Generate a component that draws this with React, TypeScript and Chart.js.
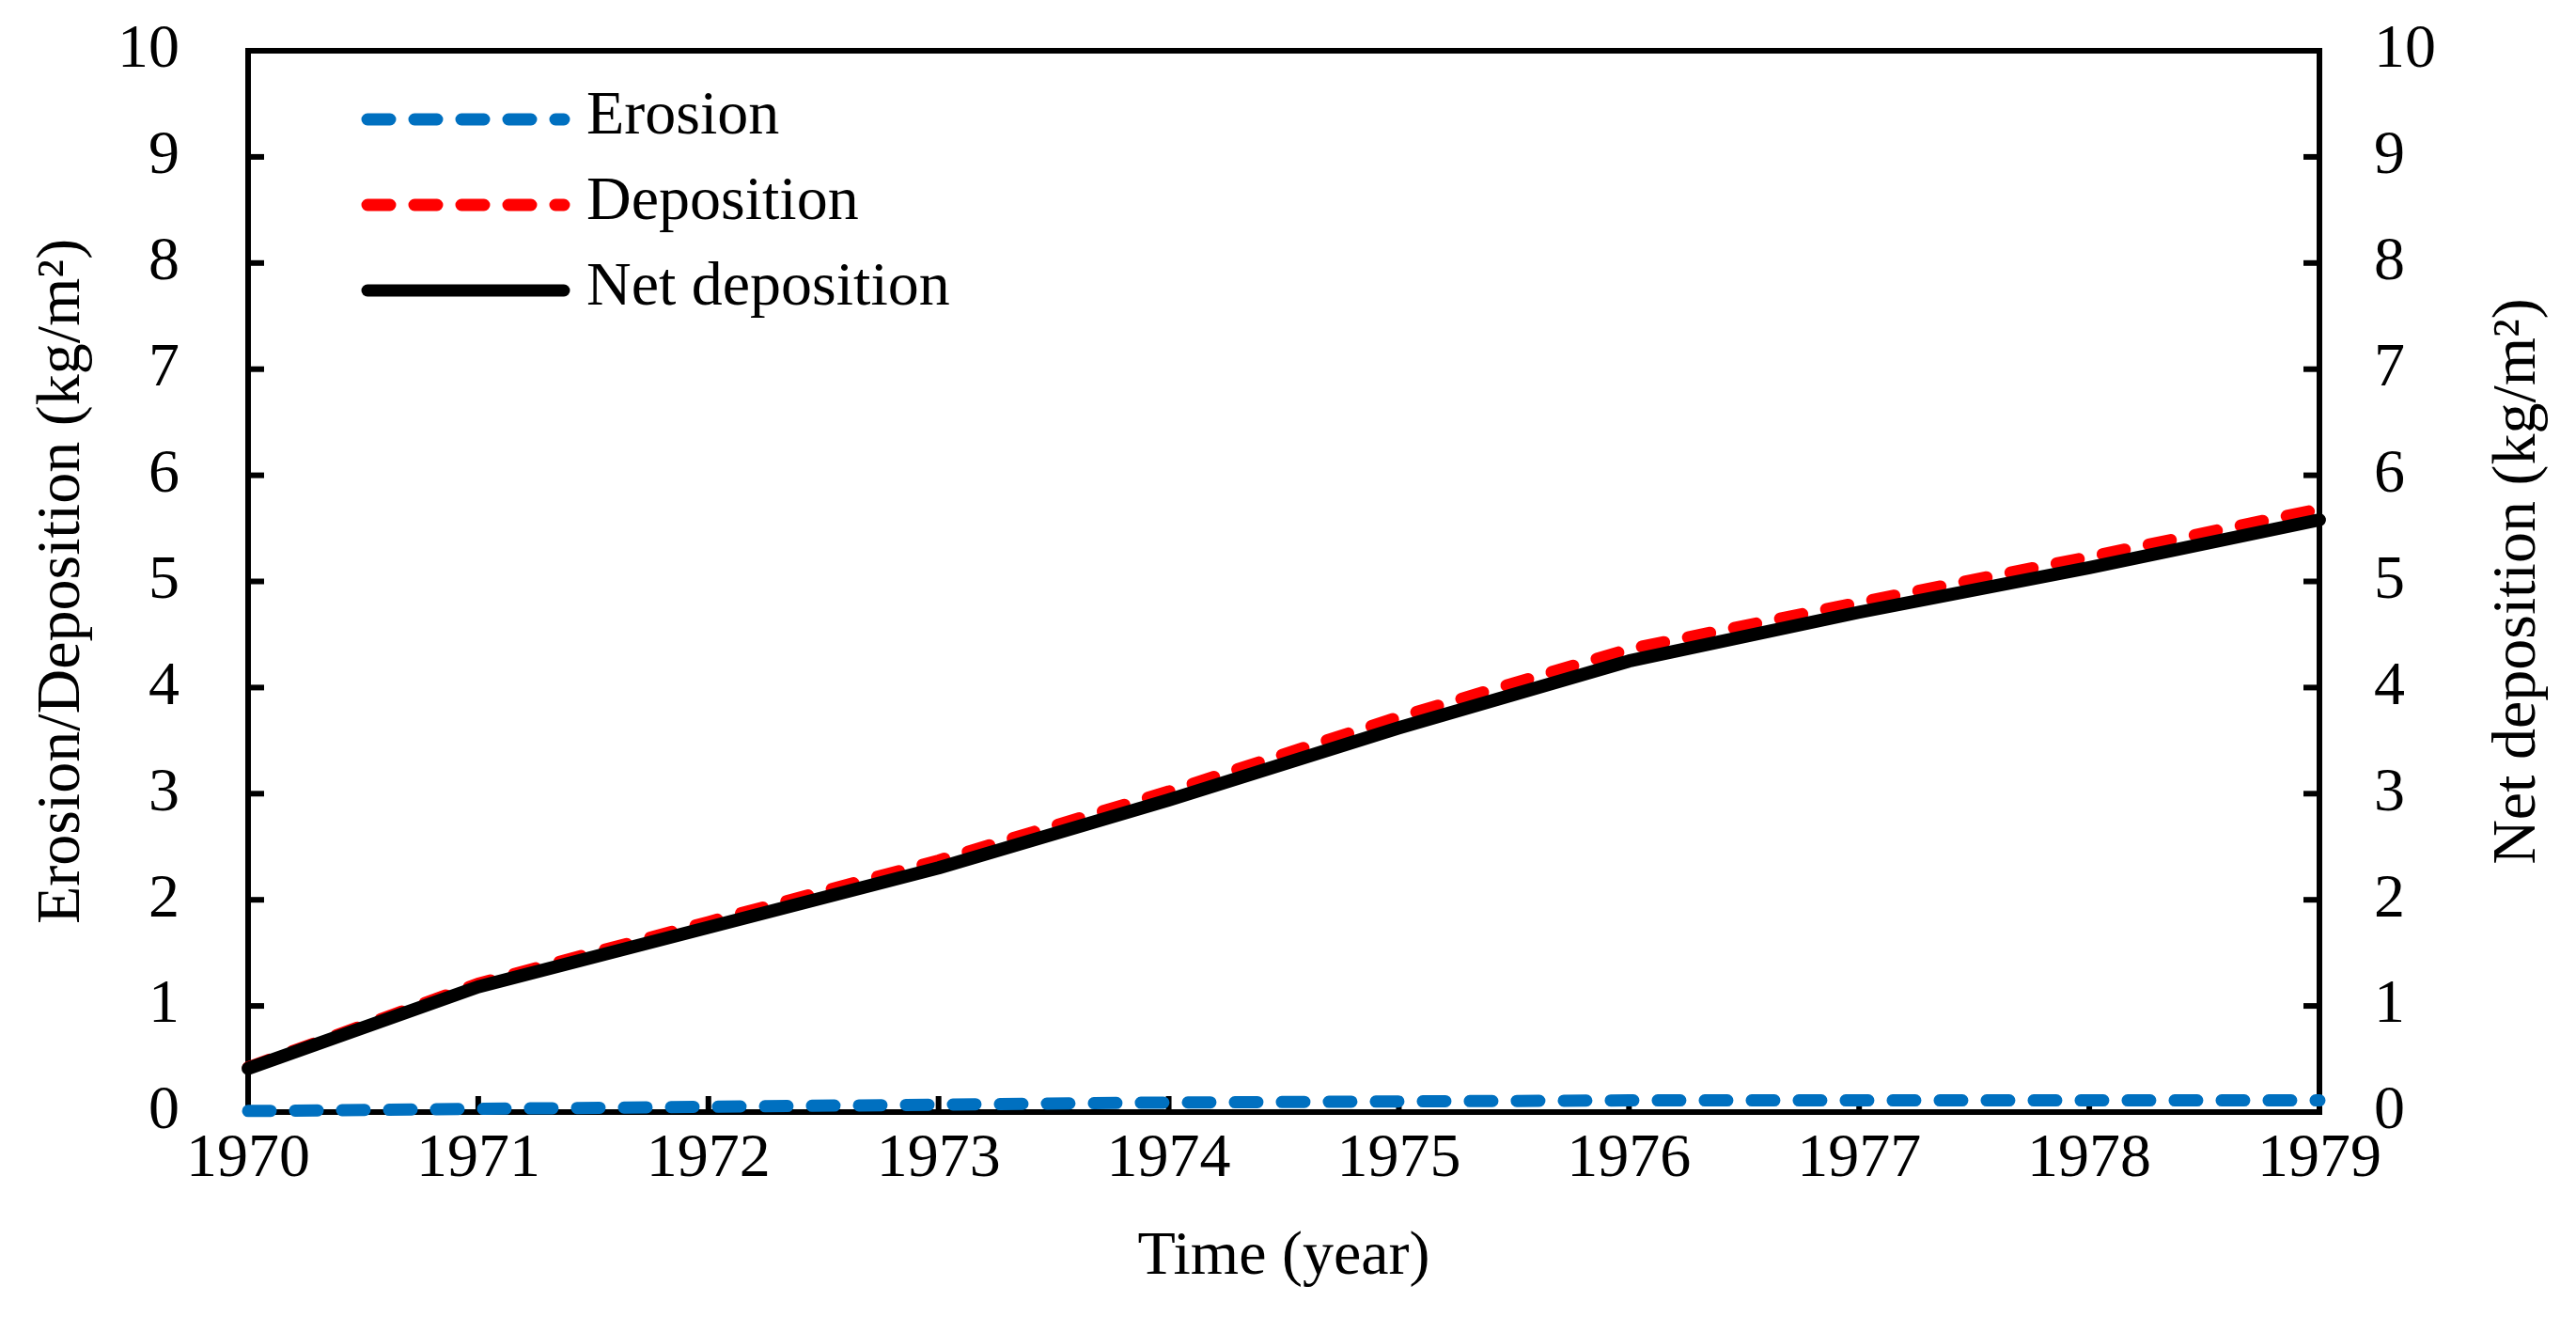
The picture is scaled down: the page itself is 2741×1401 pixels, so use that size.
import React, { useEffect, useRef } from 'react';
import { Chart, registerables } from 'chart.js';

Chart.register(...registerables);

// ---- data ----
const years = ['1970', '1971', '1972', '1973', '1974', '1975', '1976', '1977', '1978', '1979'];
const erosion = [0.01, 0.03, 0.05, 0.07, 0.09, 0.10, 0.11, 0.11, 0.11, 0.11];
const deposition = [0.42, 1.21, 1.79, 2.37, 3.02, 3.72, 4.36, 4.80, 5.23, 5.68];
const netDeposition = [0.41, 1.18, 1.74, 2.30, 2.94, 3.62, 4.25, 4.71, 5.13, 5.58];
const yTickLabels = ['0', '1', '2', '3', '4', '5', '6', '7', '8', '9', '10'];
const seriesNames = ['Erosion', 'Deposition', 'Net deposition'];

const FONT = '"Liberation Serif", "Times New Roman", serif';
const FS = 66;

const framePlugin = {
  id: 'frameTicks',
  beforeDatasetsDraw(chart: any) {
    const { ctx, chartArea } = chart;
    const { left, right, top, bottom } = chartArea;
    ctx.save();
    ctx.strokeStyle = '#000';
    ctx.lineWidth = 6;
    ctx.lineJoin = 'miter';
    ctx.strokeRect(left, top, right - left, bottom - top);
    const TL = 17;
    const ys = chart.scales.y;
    ys.ticks.forEach((_: any, i: number) => {
      const p = ys.getPixelForTick(i);
      ctx.beginPath();
      ctx.moveTo(left, p);
      ctx.lineTo(left + TL, p);
      ctx.stroke();
    });
    const y1 = chart.scales.y1;
    y1.ticks.forEach((_: any, i: number) => {
      const p = y1.getPixelForTick(i);
      ctx.beginPath();
      ctx.moveTo(right, p);
      ctx.lineTo(right - TL, p);
      ctx.stroke();
    });
    const xs = chart.scales.x;
    xs.ticks.forEach((_: any, i: number) => {
      const p = xs.getPixelForTick(i);
      ctx.beginPath();
      ctx.moveTo(p, bottom);
      ctx.lineTo(p, bottom - TL);
      ctx.stroke();
    });
    ctx.restore();
  },
  afterDraw(chart: any) {
    const { ctx, chartArea } = chart;
    ctx.save();
    // right axis title, reading bottom to top
    ctx.fillStyle = '#000';
    ctx.font = `${FS}px ${FONT}`;
    ctx.textAlign = 'center';
    ctx.textBaseline = 'middle';
    ctx.translate(2680, (chartArea.top + chartArea.bottom) / 2);
    ctx.rotate(-Math.PI / 2);
    ctx.fillText('Net deposition (kg/m²)', 0, 0);
    ctx.restore();

    // legend
    const rows = [125, 216, 307];
    chart.data.datasets.forEach((ds: any, i: number) => {
      const y = rows[i];
      ctx.save();
      ctx.strokeStyle = ds.borderColor;
      ctx.lineWidth = ds.legendWidth;
      ctx.lineCap = 'round';
      ctx.setLineDash(ds.borderDash || []);
      ctx.beginPath();
      ctx.moveTo(391, y + 2);
      ctx.lineTo(600, y + 2);
      ctx.stroke();
      ctx.setLineDash([]);
      ctx.fillStyle = '#000';
      ctx.font = `${FS}px ${FONT}`;
      ctx.textAlign = 'left';
      ctx.textBaseline = 'middle';
      ctx.fillText(ds.label, 624, y);
      ctx.restore();
    });
  },
};

export default function App() {
  const ref = useRef<HTMLCanvasElement>(null);
  useEffect(() => {
    if (!ref.current) return;
    const chart = new Chart(ref.current, {
      type: 'line',
      data: {
        labels: years,
        datasets: [
          {
            label: seriesNames[0],
            data: erosion,
            borderColor: '#0070C0',
            borderWidth: 13,
            legendWidth: 13,
            borderDash: [24, 26],
            borderCapStyle: 'round',
            pointRadius: 0,
            tension: 0,
            yAxisID: 'y',
            clip: false,
            order: 3,
          } as any,
          {
            label: seriesNames[1],
            data: deposition,
            borderColor: '#FF0000',
            borderWidth: 13,
            legendWidth: 13,
            borderDash: [24, 26],
            borderCapStyle: 'round',
            pointRadius: 0,
            tension: 0,
            yAxisID: 'y',
            clip: false,
            order: 2,
          } as any,
          {
            label: seriesNames[2],
            data: netDeposition,
            borderColor: '#000000',
            borderWidth: 14,
            legendWidth: 13,
            borderCapStyle: 'round',
            borderJoinStyle: 'round',
            pointRadius: 0,
            tension: 0,
            yAxisID: 'y1',
            clip: false,
            order: 1,
          } as any,
        ],
      },
      options: {
        animation: false,
        responsive: true,
        maintainAspectRatio: false,
        layout: { padding: { top: 54, left: 0, right: 0, bottom: 0 } },
        plugins: {
          legend: { display: false },
          tooltip: { enabled: false },
        },
        scales: {
          x: {
            type: 'category',
            offset: false,
            grid: { display: false, drawTicks: false },
            border: { display: false },
            ticks: {
              color: '#000',
              padding: 11,
              maxRotation: 0,
              autoSkip: false,
              font: { family: FONT, size: FS },
            },
            title: {
              display: true,
              text: 'Time (year)',
              color: '#000',
              font: { family: FONT, size: FS },
              padding: { top: 0, bottom: 24 },
            },
            afterFit: (s: any) => {
              s.height = 1401 - 1183;
              s.paddingLeft = 0;
              s.paddingRight = 0;
            },
          },
          y: {
            type: 'linear',
            position: 'left',
            min: 0,
            max: 10,
            grid: { display: false, drawTicks: false },
            border: { display: false },
            ticks: {
              stepSize: 1,
              color: '#000',
              padding: 73,
              font: { family: FONT, size: FS },
              callback: (v: any) => yTickLabels[Math.round(Number(v))],
            },
            title: {
              display: true,
              text: 'Erosion/Deposition (kg/m²)',
              color: '#000',
              font: { family: FONT, size: FS },
              padding: { top: 27, bottom: 0 },
            },
            afterFit: (s: any) => {
              s.width = 264;
              s.paddingTop = 0;
              s.paddingBottom = 0;
            },
          },
          y1: {
            type: 'linear',
            position: 'right',
            min: 0,
            max: 10,
            grid: { display: false, drawTicks: false },
            border: { display: false },
            ticks: {
              stepSize: 1,
              color: '#000',
              padding: 58,
              font: { family: FONT, size: FS },
              callback: (v: any) => yTickLabels[Math.round(Number(v))],
            },
            title: { display: false },
            afterFit: (s: any) => {
              s.width = 2741 - 2468;
              s.paddingTop = 0;
              s.paddingBottom = 0;
            },
          },
        },
      } as any,
      plugins: [framePlugin],
    });
    return () => chart.destroy();
  }, []);

  return (
    <div style={{ position: 'absolute', left: 0, top: 0, width: 2741, height: 1401, background: '#fff' }}>
      <canvas ref={ref} />
    </div>
  );
}
